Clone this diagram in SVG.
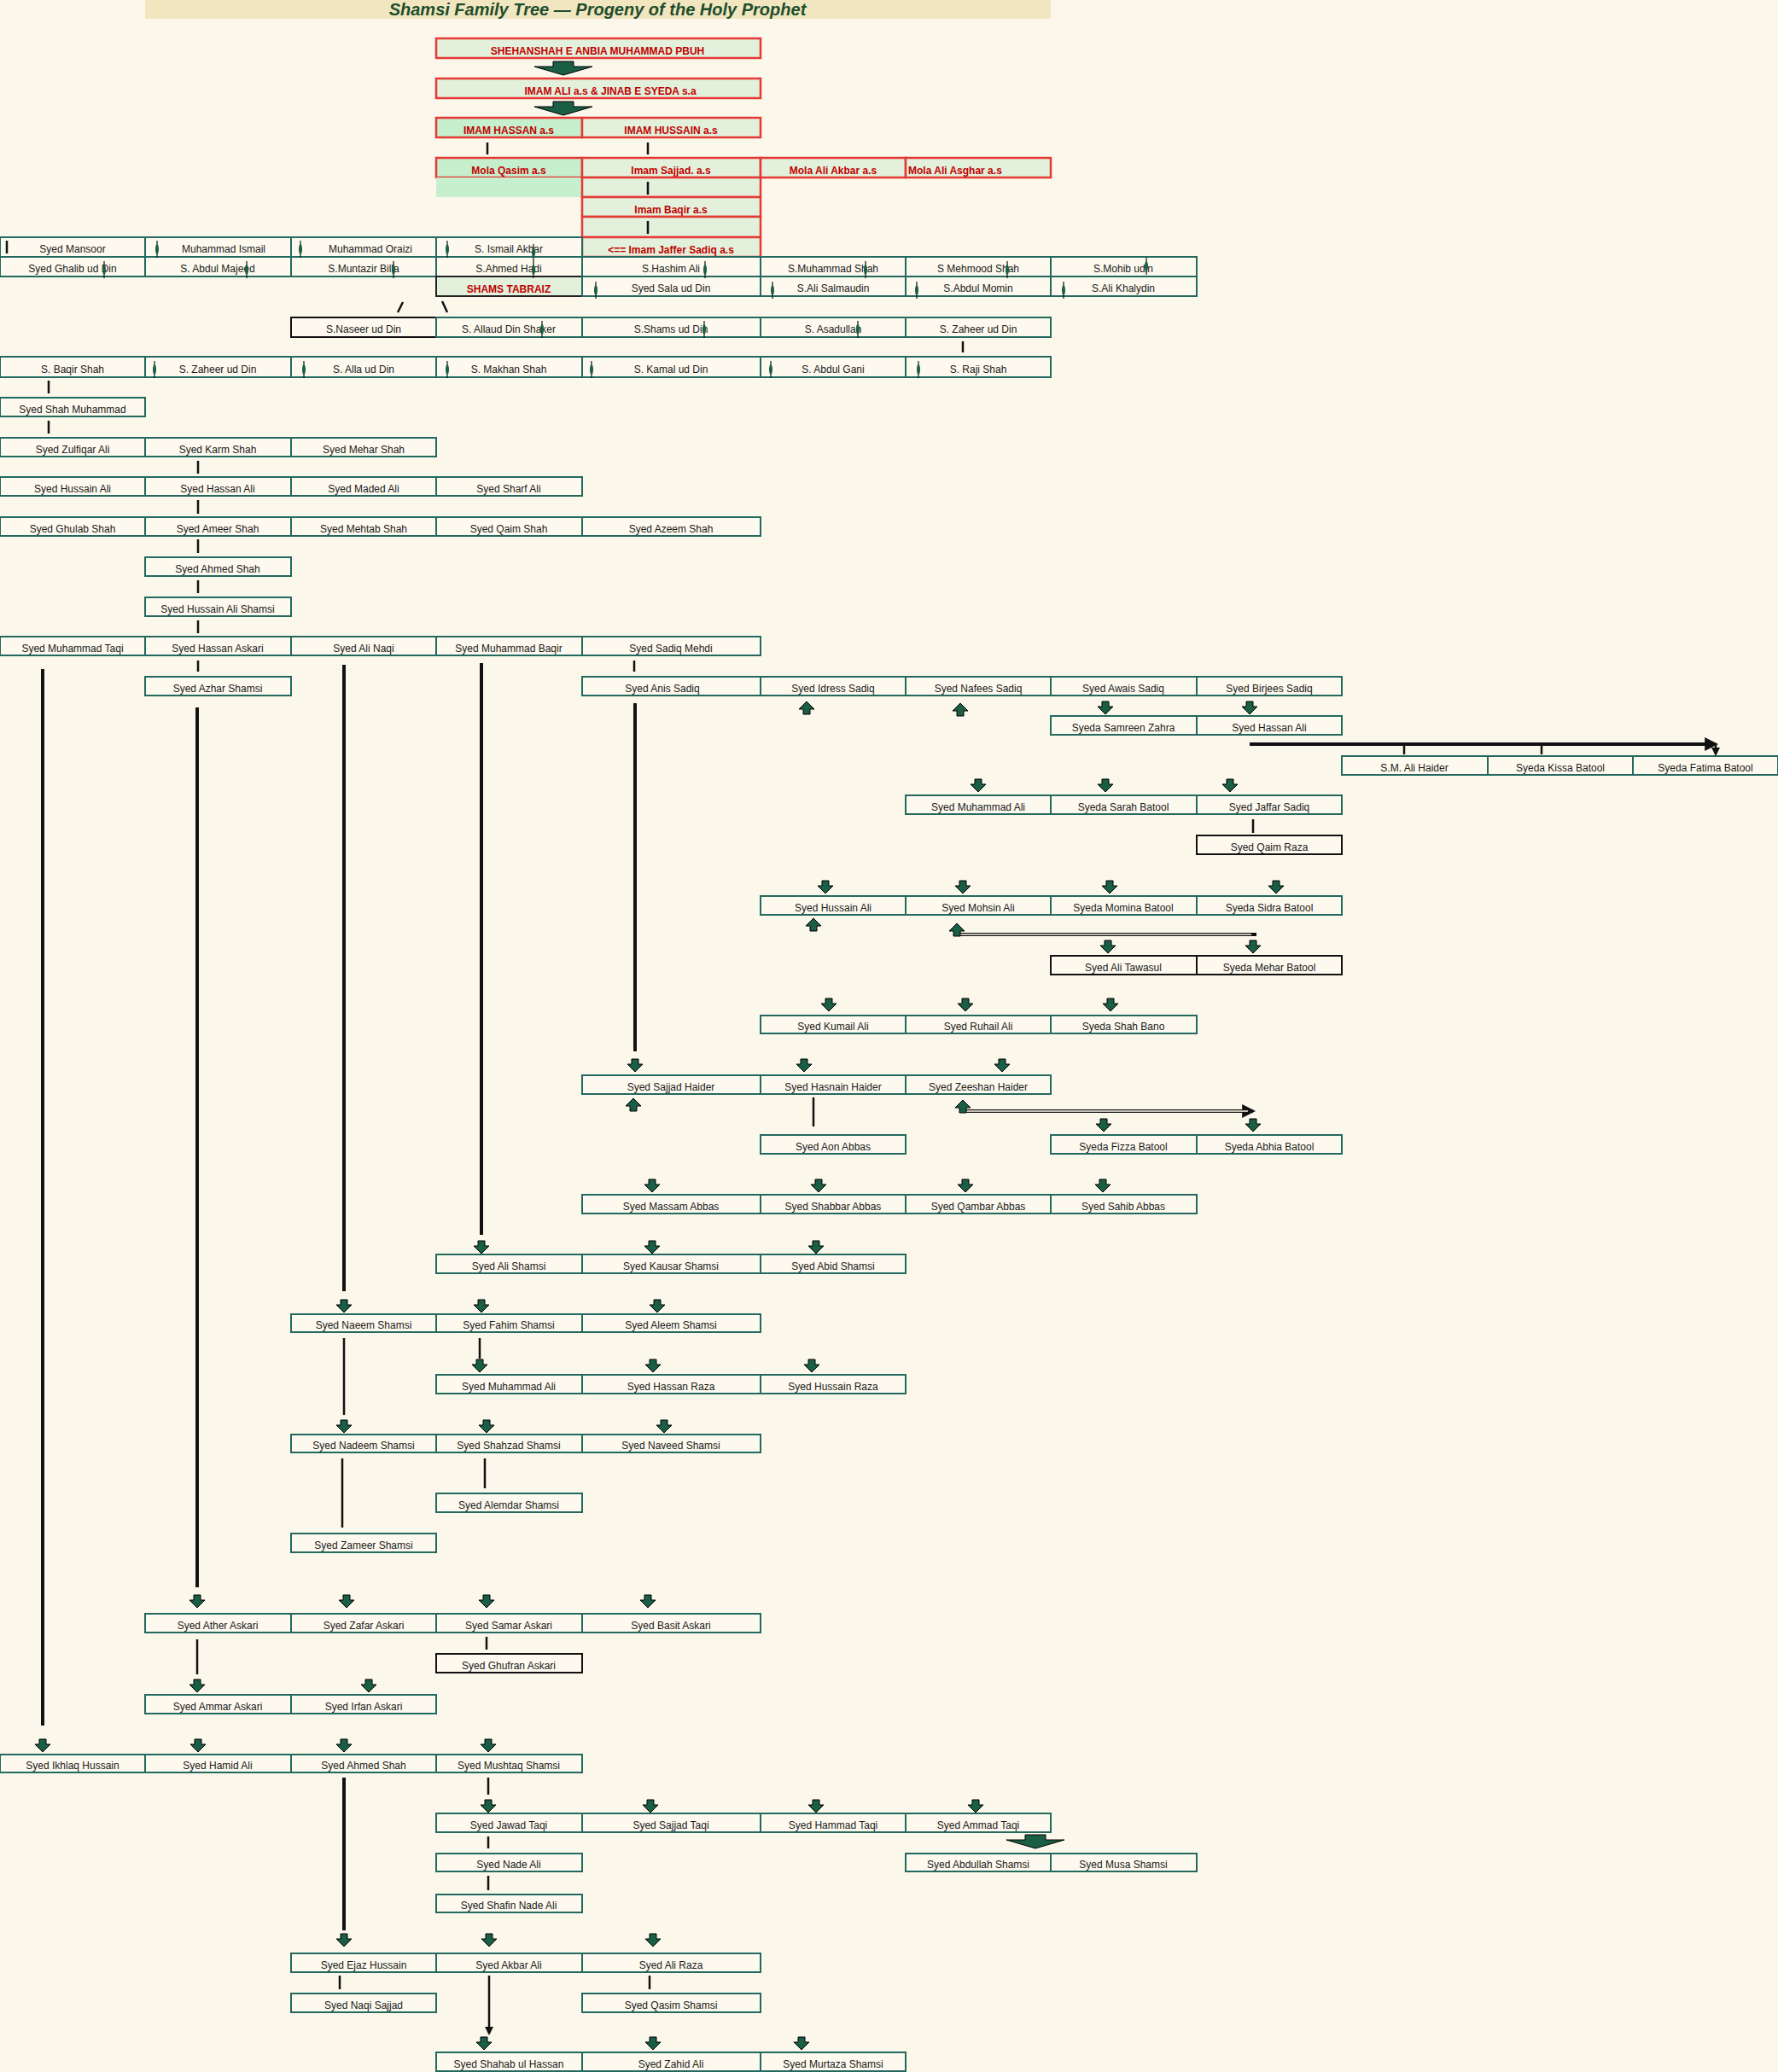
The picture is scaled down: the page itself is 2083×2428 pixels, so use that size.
<svg xmlns="http://www.w3.org/2000/svg" width="2083" height="2428" viewBox="0 0 2083 2428">
<style>
text{font-family:"Liberation Sans Narrow","Liberation Sans",Arial,sans-serif;font-size:12px;text-anchor:middle;fill:#1a1a1a}
.n rect{fill:#fdf9ee;stroke:#23695f;stroke-width:2}
.k rect{fill:#fdf9ee;stroke:#111;stroke-width:2}
.r rect{fill:#e3f0dc;stroke:#e53935;stroke-width:2.5}
.r text{fill:#c00000;font-weight:bold}
.g rect{fill:#c6efce}
.t{stroke:#111;stroke-width:2.5;fill:none}
.L{stroke:#111;stroke-width:4;fill:none}
.Li{stroke:#9bb;stroke-width:1;fill:none}
.sp{stroke:#111;stroke-width:1.2}
</style>
<defs>
<marker id="ah" viewBox="0 0 10 10" refX="8" refY="5" markerWidth="4" markerHeight="4" orient="auto"><path d="M0,0L10,5L0,10z" fill="#111"/></marker>
<path id="fa" d="M-4,-7h8v6h5l-9,9l-9,-9h5z" fill="#1b5e46" stroke="#000" stroke-width="1"/>
<path id="ba" d="M-12,-7h24v6h22l-34,10l-34,-10h22z" fill="#1b5e46" stroke="#000" stroke-width="1"/>
<g id="s"><line x1="0" y1="-10" x2="0" y2="10" class="sp"/><ellipse rx="2" ry="6" fill="#1b5e46"/></g>
</defs>
<rect width="2083" height="2428" fill="#fbf7ea"/>
<rect x="170" y="0" width="1061" height="22" fill="#f1e6c0"/>
<text x="700" y="18" style="font-family:'Liberation Sans',Arial,sans-serif;font-size:20px;font-weight:bold;font-style:italic;fill:#1e4d2b">Shamsi Family Tree — Progeny of the Holy Prophet</text>

<g id="nodes">
<g id="p1" class="r"><rect x="511" y="45" width="380" height="23"/><text x="700" y="64">SHEHANSHAH E ANBIA MUHAMMAD PBUH</text></g>
<g id="p2" class="r"><rect x="511" y="92" width="380" height="23"/><text x="715" y="111">IMAM ALI a.s  &amp; JINAB E SYEDA s.a</text></g>
<g id="p3" class="r g"><rect x="511" y="138" width="171" height="23" style="fill:#c6efce"/><text x="596" y="157">IMAM HASSAN a.s</text></g>
<g id="p4" class="r"><rect x="682" y="138" width="209" height="23"/><text x="786" y="157">IMAM HUSSAIN a.s</text></g>
<g id="p5" class="r"><rect x="511" y="185" width="171" height="23" style="fill:#c6efce"/><text x="596" y="204">Mola Qasim a.s</text></g>
<rect x="511" y="208" width="171" height="23" fill="#c6efce"/>
<g id="p6" class="r"><rect x="682" y="185" width="209" height="23"/><text x="786" y="204">Imam Sajjad. a.s</text></g>
<g id="p7" class="r"><rect x="891" y="185" width="170" height="23"/><text x="976" y="204">Mola Ali Akbar a.s</text></g>
<g id="p8" class="r"><rect x="1061" y="185" width="170" height="23"/><text x="1064" y="204" style="text-anchor:start">Mola Ali Asghar a.s</text></g>
<g id="p9" class="r"><rect x="682" y="208" width="209" height="23"/></g>
<g id="p10" class="r"><rect x="682" y="231" width="209" height="23"/><text x="786" y="250">Imam Baqir a.s</text></g>
<g id="p11" class="r"><rect x="682" y="254" width="209" height="24"/></g>
<g id="p12" class="r"><rect x="682" y="278" width="209" height="23"/><text x="786" y="297">&lt;== Imam Jaffer Sadiq a.s</text></g>

<g id="a1" class="n"><rect x="0" y="278" width="170" height="23"/><text x="85" y="296">Syed Mansoor</text></g>
<g id="a2" class="n"><rect x="170" y="278" width="171" height="23"/><text x="262" y="296">Muhammad Ismail</text></g>
<g id="a3" class="n"><rect x="341" y="278" width="170" height="23"/><text x="434" y="296">Muhammad Oraizi</text></g>
<g id="a4" class="n"><rect x="511" y="278" width="171" height="23"/><text x="596" y="296">S. Ismail Akbar</text></g>
<g id="b1" class="n"><rect x="0" y="301" width="170" height="23"/><text x="85" y="319">Syed Ghalib ud Din</text></g>
<g id="b2" class="n"><rect x="170" y="301" width="171" height="23"/><text x="255" y="319">S. Abdul Majeed</text></g>
<g id="b3" class="n"><rect x="341" y="301" width="170" height="23"/><text x="426" y="319">S.Muntazir Billa</text></g>
<g id="b4" class="n"><rect x="511" y="301" width="171" height="23"/><text x="596" y="319">S.Ahmed Hadi</text></g>
<g id="b5" class="n"><rect x="682" y="301" width="209" height="23"/><text x="786" y="319">S.Hashim Ali</text></g>
<g id="b6" class="n"><rect x="891" y="301" width="170" height="23"/><text x="976" y="319">S.Muhammad Shah</text></g>
<g id="b7" class="n"><rect x="1061" y="301" width="170" height="23"/><text x="1146" y="319">S Mehmood Shah</text></g>
<g id="b8" class="n"><rect x="1231" y="301" width="171" height="23"/><text x="1316" y="319">S.Mohib udin</text></g>
<g id="c1" class="n"><rect x="511" y="324" width="171" height="23" style="fill:#e3f0dc;stroke:#222"/><text x="596" y="343" style="fill:#c00000;font-weight:bold">SHAMS TABRAIZ</text></g>
<g id="c2" class="n"><rect x="682" y="324" width="209" height="23"/><text x="786" y="342">Syed Sala ud Din</text></g>
<g id="c3" class="n"><rect x="891" y="324" width="170" height="23"/><text x="976" y="342">S.Ali Salmaudin</text></g>
<g id="c4" class="n"><rect x="1061" y="324" width="170" height="23"/><text x="1146" y="342">S.Abdul Momin</text></g>
<g id="c5" class="n"><rect x="1231" y="324" width="171" height="23"/><text x="1316" y="342">S.Ali Khalydin</text></g>
<g id="d1" class="k"><rect x="341" y="372" width="170" height="23"/><text x="426" y="390">S.Naseer ud Din</text></g>
<g id="d2" class="n"><rect x="511" y="372" width="171" height="23"/><text x="596" y="390">S. Allaud Din Shaker</text></g>
<g id="d3" class="n"><rect x="682" y="372" width="209" height="23"/><text x="786" y="390">S.Shams ud Din</text></g>
<g id="d4" class="n"><rect x="891" y="372" width="170" height="23"/><text x="976" y="390">S. Asadullah</text></g>
<g id="d5" class="n"><rect x="1061" y="372" width="170" height="23"/><text x="1146" y="390">S. Zaheer ud Din</text></g>
<g id="e1" class="n"><rect x="0" y="418" width="170" height="24"/><text x="85" y="437">S. Baqir Shah</text></g>
<g id="e2" class="n"><rect x="170" y="418" width="171" height="24"/><text x="255" y="437">S. Zaheer ud Din</text></g>
<g id="e3" class="n"><rect x="341" y="418" width="170" height="24"/><text x="426" y="437">S. Alla ud Din</text></g>
<g id="e4" class="n"><rect x="511" y="418" width="171" height="24"/><text x="596" y="437">S. Makhan Shah</text></g>
<g id="e5" class="n"><rect x="682" y="418" width="209" height="24"/><text x="786" y="437">S. Kamal ud Din</text></g>
<g id="e6" class="n"><rect x="891" y="418" width="170" height="24"/><text x="976" y="437">S. Abdul Gani</text></g>
<g id="e7" class="n"><rect x="1061" y="418" width="170" height="24"/><text x="1146" y="437">S. Raji Shah</text></g>

<g id="f1" class="n"><rect x="0" y="466" width="170" height="22"/><text x="85" y="484">Syed Shah Muhammad</text></g>
<g id="g1" class="n"><rect x="0" y="513" width="170" height="22"/><text x="85" y="531">Syed Zulfiqar Ali</text></g>
<g id="g2" class="n"><rect x="170" y="513" width="171" height="22"/><text x="255" y="531">Syed Karm Shah</text></g>
<g id="g3" class="n"><rect x="341" y="513" width="170" height="22"/><text x="426" y="531">Syed Mehar Shah</text></g>
<g id="h1" class="n"><rect x="0" y="559" width="170" height="22"/><text x="85" y="577">Syed Hussain Ali</text></g>
<g id="h2" class="n"><rect x="170" y="559" width="171" height="22"/><text x="255" y="577">Syed Hassan Ali</text></g>
<g id="h3" class="n"><rect x="341" y="559" width="170" height="22"/><text x="426" y="577">Syed Maded Ali</text></g>
<g id="h4" class="n"><rect x="511" y="559" width="171" height="22"/><text x="596" y="577">Syed Sharf Ali</text></g>
<g id="i1" class="n"><rect x="0" y="606" width="170" height="22"/><text x="85" y="624">Syed Ghulab Shah</text></g>
<g id="i2" class="n"><rect x="170" y="606" width="171" height="22"/><text x="255" y="624">Syed Ameer Shah</text></g>
<g id="i3" class="n"><rect x="341" y="606" width="170" height="22"/><text x="426" y="624">Syed Mehtab Shah</text></g>
<g id="i4" class="n"><rect x="511" y="606" width="171" height="22"/><text x="596" y="624">Syed Qaim Shah</text></g>
<g id="i5" class="n"><rect x="682" y="606" width="209" height="22"/><text x="786" y="624">Syed Azeem Shah</text></g>
<g id="j1" class="n"><rect x="170" y="653" width="171" height="22"/><text x="255" y="671">Syed Ahmed Shah</text></g>
<g id="j2" class="n"><rect x="170" y="700" width="171" height="22"/><text x="255" y="718">Syed Hussain Ali Shamsi</text></g>
<g id="k1" class="n"><rect x="0" y="746" width="170" height="22"/><text x="85" y="764">Syed Muhammad Taqi</text></g>
<g id="k2" class="n"><rect x="170" y="746" width="171" height="22"/><text x="255" y="764">Syed Hassan Askari</text></g>
<g id="k3" class="n"><rect x="341" y="746" width="170" height="22"/><text x="426" y="764">Syed Ali Naqi</text></g>
<g id="k4" class="n"><rect x="511" y="746" width="171" height="22"/><text x="596" y="764">Syed Muhammad Baqir</text></g>
<g id="k5" class="n"><rect x="682" y="746" width="209" height="22"/><text x="786" y="764">Syed Sadiq Mehdi</text></g>
<g id="l1" class="n"><rect x="170" y="793" width="171" height="22"/><text x="255" y="811">Syed Azhar Shamsi</text></g>
<g id="l2" class="n"><rect x="682" y="793" width="209" height="22"/><text x="776" y="811">Syed Anis Sadiq</text></g>
<g id="l3" class="n"><rect x="891" y="793" width="170" height="22"/><text x="976" y="811">Syed Idress Sadiq</text></g>
<g id="l4" class="n"><rect x="1061" y="793" width="170" height="22"/><text x="1146" y="811">Syed Nafees Sadiq</text></g>
<g id="l5" class="n"><rect x="1231" y="793" width="171" height="22"/><text x="1316" y="811">Syed Awais Sadiq</text></g>
<g id="l6" class="n"><rect x="1402" y="793" width="170" height="22"/><text x="1487" y="811">Syed Birjees Sadiq</text></g>
<g id="m1" class="n"><rect x="1231" y="839" width="171" height="22"/><text x="1316" y="857">Syeda Samreen Zahra</text></g>
<g id="m2" class="n"><rect x="1402" y="839" width="170" height="22"/><text x="1487" y="857">Syed Hassan Ali</text></g>
<g id="o1" class="n"><rect x="1572" y="886" width="171" height="22"/><text x="1657" y="904">S.M. Ali Haider</text></g>
<g id="o2" class="n"><rect x="1743" y="886" width="170" height="22"/><text x="1828" y="904">Syeda Kissa Batool</text></g>
<g id="o3" class="n"><rect x="1913" y="886" width="170" height="22"/><text x="1998" y="904">Syeda Fatima Batool</text></g>
<g id="q1" class="n"><rect x="1061" y="932" width="170" height="22"/><text x="1146" y="950">Syed Muhammad Ali</text></g>
<g id="q2" class="n"><rect x="1231" y="932" width="171" height="22"/><text x="1316" y="950">Syeda Sarah Batool</text></g>
<g id="q3" class="n"><rect x="1402" y="932" width="170" height="22"/><text x="1487" y="950">Syed Jaffar Sadiq</text></g>
<g id="q4" class="k"><rect x="1402" y="979" width="170" height="22"/><text x="1487" y="997">Syed Qaim Raza</text></g>
<g id="r1" class="n"><rect x="891" y="1050" width="170" height="22"/><text x="976" y="1068">Syed Hussain Ali</text></g>
<g id="r2" class="n"><rect x="1061" y="1050" width="170" height="22"/><text x="1146" y="1068">Syed Mohsin Ali</text></g>
<g id="r3" class="n"><rect x="1231" y="1050" width="171" height="22"/><text x="1316" y="1068">Syeda Momina Batool</text></g>
<g id="r4" class="n"><rect x="1402" y="1050" width="170" height="22"/><text x="1487" y="1068">Syeda Sidra Batool</text></g>
<g id="s1" class="k"><rect x="1231" y="1120" width="171" height="22"/><text x="1316" y="1138">Syed Ali Tawasul</text></g>
<g id="s2" class="k"><rect x="1402" y="1120" width="170" height="22"/><text x="1487" y="1138">Syeda Mehar Batool</text></g>
<g id="t1" class="n"><rect x="891" y="1190" width="170" height="21"/><text x="976" y="1207">Syed Kumail Ali</text></g>
<g id="t2" class="n"><rect x="1061" y="1190" width="170" height="21"/><text x="1146" y="1207">Syed Ruhail Ali</text></g>
<g id="t3" class="n"><rect x="1231" y="1190" width="171" height="21"/><text x="1316" y="1207">Syeda Shah Bano</text></g>
<g id="u1" class="n"><rect x="682" y="1260" width="209" height="22"/><text x="786" y="1278">Syed Sajjad Haider</text></g>
<g id="u2" class="n"><rect x="891" y="1260" width="170" height="22"/><text x="976" y="1278">Syed Hasnain Haider</text></g>
<g id="u3" class="n"><rect x="1061" y="1260" width="170" height="22"/><text x="1146" y="1278">Syed Zeeshan Haider</text></g>
<g id="v1" class="n"><rect x="891" y="1330" width="170" height="22"/><text x="976" y="1348">Syed Aon Abbas</text></g>
<g id="v2" class="n"><rect x="1231" y="1330" width="171" height="22"/><text x="1316" y="1348">Syeda Fizza Batool</text></g>
<g id="v3" class="n"><rect x="1402" y="1330" width="170" height="22"/><text x="1487" y="1348">Syeda Abhia Batool</text></g>
<g id="w1" class="n"><rect x="682" y="1400" width="209" height="22"/><text x="786" y="1418">Syed Massam Abbas</text></g>
<g id="w2" class="n"><rect x="891" y="1400" width="170" height="22"/><text x="976" y="1418">Syed Shabbar Abbas</text></g>
<g id="w3" class="n"><rect x="1061" y="1400" width="170" height="22"/><text x="1146" y="1418">Syed Qambar Abbas</text></g>
<g id="w4" class="n"><rect x="1231" y="1400" width="171" height="22"/><text x="1316" y="1418">Syed Sahib Abbas</text></g>
<g id="x1" class="n"><rect x="511" y="1470" width="171" height="22"/><text x="596" y="1488">Syed Ali Shamsi</text></g>
<g id="x2" class="n"><rect x="682" y="1470" width="209" height="22"/><text x="786" y="1488">Syed Kausar Shamsi</text></g>
<g id="x3" class="n"><rect x="891" y="1470" width="170" height="22"/><text x="976" y="1488">Syed Abid Shamsi</text></g>
<g id="y1" class="n"><rect x="341" y="1540" width="170" height="21"/><text x="426" y="1557">Syed Naeem Shamsi</text></g>
<g id="y2" class="n"><rect x="511" y="1540" width="171" height="21"/><text x="596" y="1557">Syed Fahim Shamsi</text></g>
<g id="y3" class="n"><rect x="682" y="1540" width="209" height="21"/><text x="786" y="1557">Syed Aleem Shamsi</text></g>
<g id="z1" class="n"><rect x="511" y="1611" width="171" height="22"/><text x="596" y="1629">Syed Muhammad Ali</text></g>
<g id="z2" class="n"><rect x="682" y="1611" width="209" height="22"/><text x="786" y="1629">Syed Hassan Raza</text></g>
<g id="z3" class="n"><rect x="891" y="1611" width="170" height="22"/><text x="976" y="1629">Syed Hussain Raza</text></g>
<g id="aa1" class="n"><rect x="341" y="1681" width="170" height="21"/><text x="426" y="1698">Syed Nadeem Shamsi</text></g>
<g id="aa2" class="n"><rect x="511" y="1681" width="171" height="21"/><text x="596" y="1698">Syed Shahzad Shamsi</text></g>
<g id="aa3" class="n"><rect x="682" y="1681" width="209" height="21"/><text x="786" y="1698">Syed Naveed Shamsi</text></g>
<g id="ab1" class="n"><rect x="511" y="1750" width="171" height="22"/><text x="596" y="1768">Syed Alemdar Shamsi</text></g>
<g id="ab2" class="n"><rect x="341" y="1797" width="170" height="22"/><text x="426" y="1815">Syed Zameer Shamsi</text></g>
<g id="ac1" class="n"><rect x="170" y="1891" width="171" height="22"/><text x="255" y="1909">Syed Ather Askari</text></g>
<g id="ac2" class="n"><rect x="341" y="1891" width="170" height="22"/><text x="426" y="1909">Syed Zafar Askari</text></g>
<g id="ac3" class="n"><rect x="511" y="1891" width="171" height="22"/><text x="596" y="1909">Syed Samar Askari</text></g>
<g id="ac4" class="n"><rect x="682" y="1891" width="209" height="22"/><text x="786" y="1909">Syed Basit Askari</text></g>
<g id="ad1" class="k"><rect x="511" y="1938" width="171" height="22"/><text x="596" y="1956">Syed Ghufran Askari</text></g>
<g id="ae1" class="n"><rect x="170" y="1986" width="171" height="22"/><text x="255" y="2004">Syed Ammar Askari</text></g>
<g id="ae2" class="n"><rect x="341" y="1986" width="170" height="22"/><text x="426" y="2004">Syed Irfan Askari</text></g>
<g id="af1" class="n"><rect x="0" y="2056" width="170" height="21"/><text x="85" y="2073">Syed Ikhlaq Hussain</text></g>
<g id="af2" class="n"><rect x="170" y="2056" width="171" height="21"/><text x="255" y="2073">Syed Hamid Ali</text></g>
<g id="af3" class="n"><rect x="341" y="2056" width="170" height="21"/><text x="426" y="2073">Syed Ahmed Shah</text></g>
<g id="af4" class="n"><rect x="511" y="2056" width="171" height="21"/><text x="596" y="2073">Syed Mushtaq Shamsi</text></g>
<g id="ag1" class="n"><rect x="511" y="2125" width="171" height="22"/><text x="596" y="2143">Syed Jawad Taqi</text></g>
<g id="ag2" class="n"><rect x="682" y="2125" width="209" height="22"/><text x="786" y="2143">Syed Sajjad Taqi</text></g>
<g id="ag3" class="n"><rect x="891" y="2125" width="170" height="22"/><text x="976" y="2143">Syed Hammad Taqi</text></g>
<g id="ag4" class="n"><rect x="1061" y="2125" width="170" height="22"/><text x="1146" y="2143">Syed Ammad Taqi</text></g>
<g id="ah1" class="n"><rect x="511" y="2172" width="171" height="21"/><text x="596" y="2189">Syed Nade Ali</text></g>
<g id="ah2" class="n"><rect x="1061" y="2172" width="170" height="21"/><text x="1146" y="2189">Syed Abdullah Shamsi</text></g>
<g id="ah3" class="n"><rect x="1231" y="2172" width="171" height="21"/><text x="1316" y="2189">Syed Musa Shamsi</text></g>
<g id="ai1" class="n"><rect x="511" y="2220" width="171" height="21"/><text x="596" y="2237">Syed Shafin Nade Ali</text></g>
<g id="aj1" class="n"><rect x="341" y="2289" width="170" height="22"/><text x="426" y="2307">Syed Ejaz Hussain</text></g>
<g id="aj2" class="n"><rect x="511" y="2289" width="171" height="22"/><text x="596" y="2307">Syed Akbar Ali</text></g>
<g id="aj3" class="n"><rect x="682" y="2289" width="209" height="22"/><text x="786" y="2307">Syed Ali Raza</text></g>
<g id="ak1" class="n"><rect x="341" y="2336" width="170" height="22"/><text x="426" y="2354">Syed Naqi Sajjad</text></g>
<g id="ak2" class="n"><rect x="682" y="2336" width="209" height="22"/><text x="786" y="2354">Syed Qasim Shamsi</text></g>
<g id="al1" class="n"><rect x="511" y="2405" width="171" height="22"/><text x="596" y="2423">Syed Shahab ul Hassan</text></g>
<g id="al2" class="n"><rect x="682" y="2405" width="209" height="22"/><text x="786" y="2423">Syed Zahid Ali</text></g>
<g id="al3" class="n"><rect x="891" y="2405" width="170" height="22"/><text x="976" y="2423">Syed Murtaza Shamsi</text></g>
</g>

<g id="connectors">
<use href="#ba" x="660" y="79"/>
<use href="#ba" x="660" y="126"/>
<g class="t" marker-end="url(#ah)">
<path d="M571,167V181M759,167V181M759,213V228M759,259V274M8,282V297M472,354L466,366M518,353L524,366M1128,400V413M57,446V461M57,493V508M232,540V555M232,586V602M232,632V648M232,680V695M232,727V742M743,774V787M232,774V787M1468,960V976M568,1709V1744M570,1918V1933M572,2083V2103M572,2152V2166M572,2198V2215M398,2315V2331M761,2315V2331M401,1709V1790M562,1568V1592M953,1286V1320M231,1921V1962M403,1568V1658M573,2315V2383"/>
</g>
<g class="L" marker-end="url(#ah)">
<path d="M744,824V1232M564,777V1447M403,779V1513M231,829V1860M50,784V2022M403,2083V2262M1464,872H2010"/>
</g>
<path d="M1645,872V884M1806,872V884M2010,872V884" class="t" marker-end="url(#ah)"/>
<path d="M1121,1095H1472M1128,1302H1468" class="L" marker-end="url(#ah)"/>
<path d="M1121,1095H1466M1128,1302H1462" stroke="#fbf7ea" stroke-width="1.5"/>
<g>
<use href="#fa" x="1295" y="829"/><use href="#fa" x="1464" y="829"/>
<use href="#fa" transform="translate(945,830) rotate(180)"/><use href="#fa" transform="translate(1125,832) rotate(180)"/>
<use href="#fa" x="1146" y="920"/><use href="#fa" x="1295" y="920"/><use href="#fa" x="1441" y="920"/>
<use href="#fa" x="967" y="1039"/><use href="#fa" x="1128" y="1039"/><use href="#fa" x="1300" y="1039"/><use href="#fa" x="1495" y="1039"/>
<use href="#fa" transform="translate(953,1084) rotate(180)"/><use href="#fa" transform="translate(1121,1090) rotate(180)"/>
<use href="#fa" x="1298" y="1109"/><use href="#fa" x="1468" y="1109"/>
<use href="#fa" x="971" y="1177"/><use href="#fa" x="1131" y="1177"/><use href="#fa" x="1301" y="1177"/>
<use href="#fa" x="744" y="1248"/><use href="#fa" x="942" y="1248"/><use href="#fa" x="1174" y="1248"/>
<use href="#fa" transform="translate(742,1295) rotate(180)"/><use href="#fa" transform="translate(1128,1297) rotate(180)"/>
<use href="#fa" x="1293" y="1318"/><use href="#fa" x="1468" y="1318"/>
<use href="#fa" x="764" y="1389"/><use href="#fa" x="959" y="1389"/><use href="#fa" x="1131" y="1389"/><use href="#fa" x="1292" y="1389"/>
<use href="#fa" x="564" y="1461"/><use href="#fa" x="764" y="1461"/><use href="#fa" x="956" y="1461"/>
<use href="#fa" x="403" y="1530"/><use href="#fa" x="564" y="1530"/><use href="#fa" x="770" y="1530"/>
<use href="#fa" x="562" y="1600"/><use href="#fa" x="765" y="1600"/><use href="#fa" x="951" y="1600"/>
<use href="#fa" x="403" y="1671"/><use href="#fa" x="570" y="1671"/><use href="#fa" x="778" y="1671"/>
<use href="#fa" x="231" y="1876"/><use href="#fa" x="406" y="1876"/><use href="#fa" x="570" y="1876"/><use href="#fa" x="759" y="1876"/>
<use href="#fa" x="231" y="1975"/><use href="#fa" x="432" y="1975"/>
<use href="#fa" x="50" y="2045"/><use href="#fa" x="232" y="2045"/><use href="#fa" x="403" y="2045"/><use href="#fa" x="572" y="2045"/>
<use href="#fa" x="572" y="2116"/><use href="#fa" x="762" y="2116"/><use href="#fa" x="956" y="2116"/><use href="#fa" x="1143" y="2116"/>
<use href="#ba" x="1213" y="2157"/>
<use href="#fa" x="403" y="2273"/><use href="#fa" x="573" y="2273"/><use href="#fa" x="765" y="2273"/>
<use href="#fa" x="567" y="2394"/><use href="#fa" x="765" y="2394"/><use href="#fa" x="939" y="2394"/>
</g>
<g>
<use href="#s" x="184" y="292"/><use href="#s" x="352" y="292"/><use href="#s" x="524" y="292"/><use href="#s" x="625" y="296"/>
<use href="#s" x="122" y="316"/><use href="#s" x="289" y="316"/><use href="#s" x="461" y="316"/><use href="#s" x="625" y="316"/><use href="#s" x="826" y="316"/><use href="#s" x="1014" y="316"/><use href="#s" x="1180" y="316"/><use href="#s" x="1343" y="312"/>
<use href="#s" x="698" y="340"/><use href="#s" x="905" y="340"/><use href="#s" x="1074" y="340"/><use href="#s" x="1246" y="340"/>
<use href="#s" x="635" y="386"/><use href="#s" x="825" y="386"/><use href="#s" x="1005" y="386"/>
<use href="#s" x="181" y="433"/><use href="#s" x="356" y="433"/><use href="#s" x="524" y="433"/><use href="#s" x="693" y="433"/><use href="#s" x="903" y="433"/><use href="#s" x="1076" y="433"/>
</g>
</g>
</svg>
